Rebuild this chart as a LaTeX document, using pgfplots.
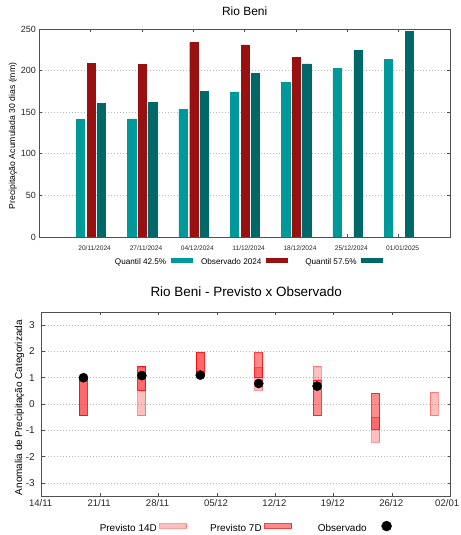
\documentclass[border=0pt]{standalone}
\usepackage{pgfplots}
\pgfplotsset{compat=1.18}
\usepackage{fontspec}
\setmainfont{Liberation Sans}
\definecolor{qlo}{HTML}{009999}
\definecolor{obs}{HTML}{991010}
\definecolor{qhi}{HTML}{006868}
\definecolor{axgray}{HTML}{505050}
\pgfplotsset{
  myaxis/.style={
    scale only axis, anchor=south west,
    /pgf/number format/assume math mode=true,
    tick align=inside, major tick length=3bp,
    axis line style={axgray, line width=0.8bp}, tick style={axgray, line width=0.7bp},
    ymajorgrids, grid style={gray!55, line width=0.6bp, dash pattern=on 1bp off 2bp},
    legend plot pos=right,
    ticklabel style={text=black!85},
  }
}
\begin{document}
\begin{tikzpicture}
\path[use as bounding box] (0,0) rectangle (461bp,535bp);
% ---------------- top chart ----------------
\begin{axis}[myaxis,
  at={(39.3bp,298bp)}, width=410.7bp, height=208bp,
  xmin=-1, xmax=7, ymin=0, ymax=250,
  xtick={0,...,6},
  xticklabels={20/11/2024,27/11/2024,04/12/2024,11/12/2024,18/12/2024,25/12/2024,01/01/2025},
  xticklabel style={font=\fontsize{6.6}{7}\selectfont, xshift=4bp, yshift=-5bp},
  ytick={0,50,...,250},
  yticklabel style={font=\fontsize{9}{10}\selectfont},
  title={Rio Beni},
  title style={font=\fontsize{12}{14}\selectfont, at={(0.5,1)}, anchor=center, yshift=12bp},
  ylabel={Precipitação Acumulada 30 dias (mm)},
  ylabel style={font=\fontsize{8.7}{10}\selectfont, at={(axis description cs:-0.064,0.486)}, anchor=center},
  legend columns=3,
  legend style={at={(0.837,-0.12)}, anchor=east, draw=none, fill=none, inner sep=0pt,
    column sep=0pt, nodes={inner sep=0pt}, font=\fontsize{8.2}{9}\selectfont},
]
\addplot[ybar, bar width=0.16, bar shift=-0.2, fill=qlo, draw=qlo,
  legend image code/.code={\path[draw=none,fill=none] (0,0) rectangle (5bp,1bp); \fill[qlo] (5bp,1bp) rectangle (26bp,5bp);}]
  coordinates {(0,141.8) (1,142) (2,153.4) (3,174.3) (4,185.9) (5,202.3) (6,213.9)};
\addlegendentry{\makebox[69bp][r]{Quantil 42.5\%}}
\addplot[ybar, bar width=0.16, bar shift=0.01, fill=obs, draw=obs,
  legend image code/.code={\path[draw=none,fill=none] (0,0) rectangle (5bp,1bp); \fill[obs] (5bp,1bp) rectangle (26bp,5bp);}]
  coordinates {(0,209.1) (1,207.9) (2,234) (3,230.8) (4,216)};
\addlegendentry{\makebox[69bp][r]{Observado 2024}}
\addplot[ybar, bar width=0.16, bar shift=0.21, fill=qhi, draw=qhi,
  legend image code/.code={\path[draw=none,fill=none] (0,0) rectangle (5bp,1bp); \fill[qhi] (5bp,1bp) rectangle (26bp,5bp);}]
  coordinates {(0,161) (1,162) (2,175) (3,196.3) (4,208) (5,224.4) (6,246.8)};
\addlegendentry{\makebox[69bp][r]{Quantil 57.5\%}}
\end{axis}
% ---------------- bottom chart ----------------
\begin{axis}[myaxis,
  at={(41.7bp,39bp)}, width=409bp, height=184bp,
  xmin=0, xmax=49, ymin=-3.5, ymax=3.5,
  xtick={0,7,...,49},
  xticklabels={14/11,21/11,28/11,05/12,12/12,19/12,26/12,\kern-2.5bp 02/01\kern2.5bp},
  xticklabel style={font=\fontsize{9.6}{11}\selectfont, xshift=-1bp},
  ytick={-3,...,3},
  yticklabel style={font=\fontsize{10}{11}\selectfont, xshift=-3.5bp},
  title={Rio Beni - Previsto x Observado},
  title style={font=\fontsize{13.5}{15}\selectfont, at={(0.5,1)}, anchor=center, yshift=14bp},
  ylabel={Anomalia de Precipitação Categorizada},
  ylabel style={font=\fontsize{10}{11}\selectfont, at={(axis description cs:-0.054,0.48)}, anchor=center},
  legend columns=3,
  legend style={at={(0.8565,-0.168)}, anchor=east, draw=none, fill=none, inner sep=0pt,
    column sep=0pt, nodes={inner sep=0pt}, font=\fontsize{10}{11}\selectfont},
  p14/.style={fill=red, fill opacity=0.25, draw=red, draw opacity=0.38, line width=0.8bp},
  p7/.style={fill=red, fill opacity=0.45, draw=red, draw opacity=0.75, line width=0.8bp},
]
% Previsto 14D
\addplot[p14, legend image code/.code={\path[draw=none,fill=none] (0,0) rectangle (3bp,1bp); \draw[fill=red, fill opacity=0.25, draw=red, draw opacity=0.38, line width=0.8bp] (3bp,0.3bp) rectangle (30bp,4.7bp);}]
  coordinates {(4.52,-0.45) (5.48,-0.45) (5.48,0.95) (4.52,0.95)} -- cycle;
\addlegendentry{\makebox[74.5bp][r]{Previsto 14D}}
\addplot[p14, forget plot] coordinates {(11.52,-0.45) (12.48,-0.45) (12.48,1.43) (11.52,1.43)} -- cycle;
\addplot[p14, forget plot] coordinates {(18.52,1.05) (19.48,1.05) (19.48,1.97) (18.52,1.97)} -- cycle;
\addplot[p14, forget plot] coordinates {(25.52,0.52) (26.48,0.52) (26.48,1.41) (25.52,1.41)} -- cycle;
\addplot[p14, forget plot] coordinates {(32.52,0.95) (33.48,0.95) (33.48,1.43) (32.52,1.43)} -- cycle;
\addplot[p14, forget plot] coordinates {(39.52,-1.45) (40.48,-1.45) (40.48,-0.51) (39.52,-0.51)} -- cycle;
\addplot[p14, forget plot] coordinates {(46.52,-0.45) (47.48,-0.45) (47.48,0.45) (46.52,0.45)} -- cycle;
% Previsto 7D
\addplot[p7, legend image code/.code={\path[draw=none,fill=none] (0,0) rectangle (3bp,1bp); \draw[fill=red, fill opacity=0.45, draw=red, draw opacity=0.75, line width=0.8bp] (3bp,0.3bp) rectangle (30bp,4.7bp);}]
  coordinates {(4.52,-0.45) (5.48,-0.45) (5.48,0.95) (4.52,0.95)} -- cycle;
\addlegendentry{\makebox[74.5bp][r]{Previsto 7D}}
\addplot[p7, forget plot] coordinates {(11.52,0.5) (12.48,0.5) (12.48,1.43) (11.52,1.43)} -- cycle;
\addplot[p7, forget plot] coordinates {(18.52,1.1) (19.48,1.1) (19.48,1.95) (18.52,1.95)} -- cycle;
\addplot[p7, forget plot] coordinates {(25.52,1.0) (26.48,1.0) (26.48,1.95) (25.52,1.95)} -- cycle;
\addplot[p7, forget plot] coordinates {(32.52,-0.45) (33.48,-0.45) (33.48,0.9) (32.52,0.9)} -- cycle;
\addplot[p7, forget plot] coordinates {(39.52,-0.95) (40.48,-0.95) (40.48,0.42) (39.52,0.42)} -- cycle;
% Observado
\addplot[only marks, mark=*, mark size=4.6bp, black,
  legend image code/.code={\path[draw=none,fill=none] (0,0) rectangle (10bp,1bp); \fill[black] (20bp,2.5bp) circle (5bp);}]
  coordinates {(5,1.0) (12,1.08) (19,1.1) (26,0.78) (33,0.68)};
\addlegendentry{\makebox[74.5bp][r]{Observado}}
\end{axis}
\end{tikzpicture}
\end{document}
